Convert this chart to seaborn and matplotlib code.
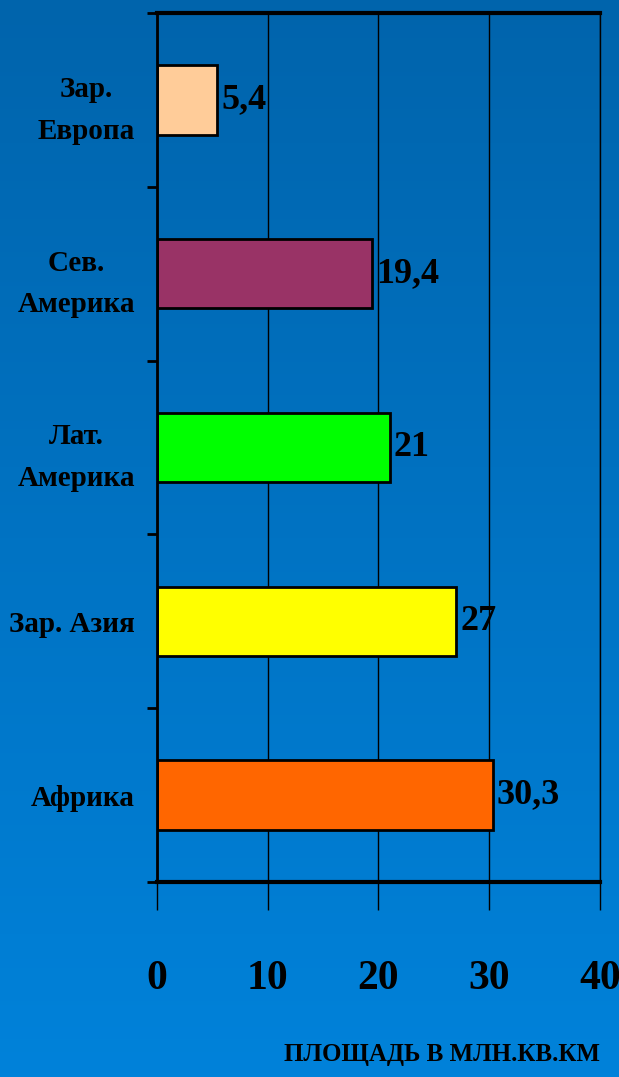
import numpy as np
import pandas as pd
import matplotlib
matplotlib.use("Agg")
import matplotlib.pyplot as plt
import seaborn as sns

# données
regions = ["Зар.\nЕвропа", "Сев.\nАмерика", "Лат.\nАмерика", "Зар. Азия", "Африка"]
surface = [5.4, 19.4, 21, 27, 30.3]
couleurs = ["#FFCC99", "#993366", "#00FF00", "#FFFF00", "#FF6600"]
x_ticks = [0, 10, 20, 30, 40]
titre_x = "ПЛОЩАДЬ В МЛН.КВ.КМ"

df = pd.DataFrame({"region": regions, "surface": surface})

sns.set_style("white")
plt.rcParams["font.family"] = ["Liberation Serif", "DejaVu Serif"]
plt.rcParams["font.weight"] = "bold"
plt.rcParams["text.color"] = "black"
plt.rcParams["xtick.color"] = "black"
plt.rcParams["ytick.color"] = "black"

fig = plt.figure(figsize=(6.19, 10.77), dpi=100)

# fond dégradé bleu
bg = fig.add_axes([0, 0, 1, 1], zorder=-10)
grad = np.linspace(0, 1, 256).reshape(-1, 1)
top = np.array([0x00, 0x64, 0xAC]) / 255
bot = np.array([0x00, 0x82, 0xDA]) / 255
img = top + (bot - top) * grad[:, :, None]
bg.imshow(img, aspect="auto", extent=[0, 1, 0, 1])
bg.axis("off")

ax = fig.add_axes([157 / 619, 1 - 882 / 1077, (600 - 157) / 619, (882 - 13) / 1077])
ax.patch.set_alpha(0)

sns.barplot(data=df, y="region", x="surface", hue="region", palette=couleurs,
            orient="h", width=0.4, edgecolor="black", linewidth=2,
            legend=False, ax=ax, saturation=1)

ax.set_xlim(0, 40)
ax.set_ylim(4.5, -0.5)
ax.set_xticks(x_ticks)
ax.set_xticklabels([str(t) for t in x_ticks], fontsize=30, fontweight="bold", color="black")
ax.tick_params(axis="x", bottom=True, direction="out", length=20, width=1,
               color="black", pad=36)
ax.grid(axis="x", color="black", linewidth=1)
ax.set_axisbelow(True)

ax.set_yticks(range(len(regions)))
ax.set_yticklabels(regions, fontsize=21, fontweight="bold", color="black",
                   multialignment="center", linespacing=1.7)
ax.tick_params(axis="y", which="major", left=True, length=0, pad=16)
ax.set_yticks(np.arange(-0.5, len(regions), 1), minor=True)
ax.tick_params(axis="y", which="minor", left=True, direction="out", length=7,
               width=2, color="black")

for s in ["top", "bottom"]:
    ax.spines[s].set_linewidth(3)
    ax.spines[s].set_color("black")
ax.spines["left"].set_linewidth(2)
ax.spines["left"].set_color("black")
ax.spines["right"].set_linewidth(1)
ax.spines["right"].set_color("black")

ax.set_xlabel("")
ax.set_ylabel("")

for cont in ax.containers:
    ax.bar_label(cont, labels=[f"{v:g}".replace(".", ",") for v in cont.datavalues],
                 padding=3, fontsize=26, fontweight="bold", color="black")

fig.text(600 / 619, 1 - 1055 / 1077, titre_x, ha="right", va="center",
         fontsize=18, fontweight="bold", color="black")

fig.savefig("out.png", dpi=100)
